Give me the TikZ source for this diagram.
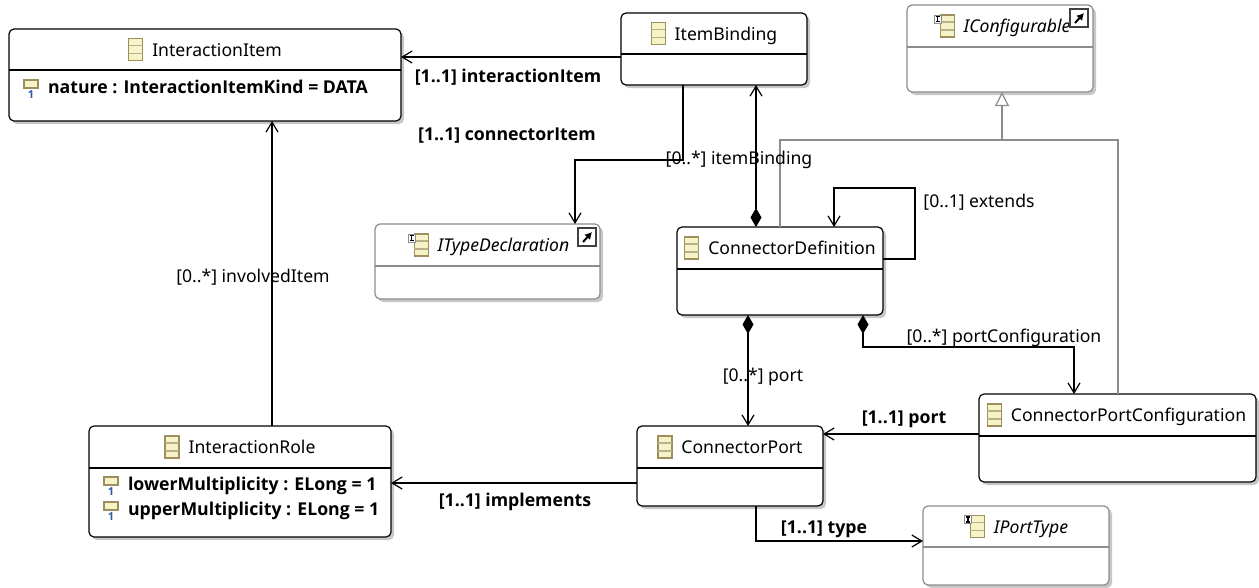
\documentclass[tikz,border=0pt]{standalone}
\usepackage{fontspec}
\setmainfont{Noto Sans}
\newfontfamily\boldface{Open Sans}
\usetikzlibrary{arrows.meta, shadows}
\definecolor{iconborder}{HTML}{9E8E5E}
\definecolor{iconfill}{HTML}{F6F4C6}
\definecolor{linegray}{HTML}{8C8C8C}
\definecolor{onecolor}{HTML}{2F5C9C}
\newcommand{\labelfont}{\fontsize{17.6}{20}\selectfont}
\newcommand{\strongfont}{\fontsize{17.7}{20}\selectfont\boldface\bfseries}
\tikzset{
	classbox/.style= {
		rectangle,
		draw=black,
		line width=1.2pt,
		fill=white,
		rounded corners=5pt,
		anchor=north west,
		inner sep=0,
		outer sep=0,
		drop shadow={shadow xshift=3pt, shadow yshift=-3pt, fill=black!22, opacity=1},
	},
	divider/.style= {
		draw=black,
		line width=1.2pt,
	},
	interface/.style= {
		draw=linegray,
	},
	titletext/.style= {
		font=\labelfont,
		inner sep=0,
		outer sep=0,
		text height=13pt,
		text depth=0pt,
	},
	italictitle/.style= {
		font=\labelfont\itshape,
	},
	attrtext/.style= {
		titletext,
		font=\strongfont,
		anchor=west,
	},
	rolelabel/.style= {
		titletext,
	},
	boldlabel/.style= {
		titletext,
		font=\strongfont,
	},
	refline/.style= {
		draw=black,
		line width=1.2pt,
		-{Straight Barb[length=10pt,width=12pt,line width=1.2pt]},
	},
	containline/.style= {
		refline,
		{Diamond[length=19pt,width=11pt,fill=black]}-{Straight Barb[length=10pt,width=12pt,line width=1.2pt]},
	},
	genline/.style= {
		draw=linegray,
		line width=1.2pt,
	},
	genarrow/.style= {
		genline,
		-{Triangle[open,length=14pt,width=14pt,line width=1.2pt,fill=white]},
	},
	classicon/.pic={
		\draw[draw=iconborder, line width=1.2pt, fill=iconfill] (-7,-11) rectangle (7,11);
		\draw[draw=iconborder!70, line width=1.2pt] (-7,-4) -- (7,-4) (-7,4) -- (7,4);
	},
	attricon/.pic={
		\draw[draw=iconborder, line width=1.2pt, fill=iconfill] (-7,-7) rectangle (7,1);
		\node (attrone) at (0,8) [inner sep=0, text=onecolor, font=\fontsize{11}{12}\boldface\bfseries] {1};
	},
	interfacemark/.pic={
		\draw[draw=linegray, line width=0.7pt, fill=white] (-3.5,-4) rectangle (3.5,4);
		\draw[draw=black, line width=1.2pt] (-2,-2.5) -- (2,-2.5) (0,-2.5) -- (0,2.5) (-2,2.5) -- (2,2.5);
	},
	externalmark/.pic={
		\draw[draw=black!75, line width=1.2pt, fill=white] (-9,-9) rectangle (9,9);
		\draw[draw=black, line width=2pt, -{Latex[length=7pt,width=8pt]}] (-4,5) -- (5,-5);
	},
}
% box with its head line, coordinates in pixels of the picture
\newcommand{\umlclass}[7][]{
	\node(#2)[classbox,#1,minimum width=#5pt,minimum height=#6pt] at (#3,#4) {};
	\draw[divider,#1] ([yshift=-#7pt]#2.north west) to ([yshift=-#7pt]#2.north east);
	\coordinate(#2head) at ([yshift=-#7/2*1pt]#2.north);
}
\newcommand{\umltitle}[3][]{
	\node(#2title)[titletext,#1] at (#2head) {#3};
	\pic at ([xshift=-16.5pt]#2title.west) {classicon};
}
\newcommand{\umlattr}[4]{
	\node(#3)[attrtext] at ([xshift=39pt,yshift=-#2pt]#1.north west) {#4};
	\pic at ([xshift=22pt,yshift=-#2pt]#1.north west) {attricon};
}
\begin{document}
\begin{tikzpicture}[x=1pt,y=-1pt]
		\useasboundingbox (0,0) rectangle (1259,587);
		\fill[white] (0,0) rectangle (1259,587);

		\umlclass{interactionitem}{9}{29}{392}{92}{41}
		\umltitle[xshift=12pt]{interactionitem}{InteractionItem}
		\umlattr{interactionitem}{58}{natureattr}{nature : InteractionItemKind = DATA}

		\umlclass{itembinding}{621}{13}{186}{72}{41}
		\umltitle[xshift=12pt]{itembinding}{ItemBinding}

		\umlclass[interface]{iconfigurable}{907}{5}{186}{87}{42}
		\umltitle[xshift=17pt,italictitle]{iconfigurable}{IConfigurable}
		\pic at ([xshift=-26pt,yshift=7pt]iconfigurabletitle.west) {interfacemark};
		\pic at ([xshift=-14pt,yshift=-13pt]iconfigurable.north east) {externalmark};

		\umlclass[interface]{itypedeclaration}{375}{224}{225}{75}{42}
		\umltitle[xshift=16pt,italictitle]{itypedeclaration}{ITypeDeclaration}
		\pic at ([xshift=-26pt,yshift=7pt]itypedeclarationtitle.west) {interfacemark};
		\pic at ([xshift=-13pt,yshift=-13pt]itypedeclaration.north east) {externalmark};

		\umlclass{connectordefinition}{677}{227}{206}{88}{42}
		\umltitle[xshift=12pt]{connectordefinition}{ConnectorDefinition}

		\umlclass{connectorport}{637}{426}{186}{80}{42}
		\umltitle[xshift=12pt]{connectorport}{ConnectorPort}

		\umlclass{portconfiguration}{979}{394}{277}{88}{42}
		\umltitle[xshift=11pt]{portconfiguration}{ConnectorPortConfiguration}

		\umlclass[interface]{iporttype}{923}{506}{186}{79}{41}
		\umltitle[xshift=15pt,italictitle]{iporttype}{IPortType}
		\pic at ([xshift=-26pt,yshift=7pt]iporttypetitle.west) {interfacemark};

		\umlclass{interactionrole}{89}{426}{302}{111}{42}
		\umltitle[xshift=12pt]{interactionrole}{InteractionRole}
		\umlattr{interactionrole}{58}{lowerattr}{lowerMultiplicity : ELong = 1}
		\umlattr{interactionrole}{83}{upperattr}{upperMultiplicity : ELong = 1}

		\coordinate(genbar) at (1002,140);
		\draw[genline] ([xshift=103pt]connectordefinition.north west) |- (genbar);
		\draw[genline] ([xshift=139pt]portconfiguration.north west) |- (genbar);
		\draw[genarrow] (genbar) to ([xshift=95pt]iconfigurable.south west);

		\draw[refline] ([yshift=-44pt]itembinding.north west) to ([yshift=-28pt]interactionitem.north east);
		\draw[refline] ([xshift=183pt]interactionrole.north west) to ([xshift=263pt]interactionitem.south west);
		\draw[refline] ([xshift=62pt]itembinding.south west) -- ++(0,75) -| ([xshift=200pt]itypedeclaration.north west);
		\draw[containline] ([xshift=79pt]connectordefinition.north west) to ([xshift=135pt]itembinding.south west);
		\draw[refline] ([yshift=-32pt]connectordefinition.north east) -- ++(32,0) |- (854,188) -| ([xshift=157pt]connectordefinition.north west);
		\draw[containline] ([xshift=71pt]connectordefinition.south west) to ([xshift=111pt]connectorport.north west);
		\draw[containline] ([xshift=186pt]connectordefinition.south west) -- ++(0,32) -| ([xshift=95pt]portconfiguration.north west);
		\draw[refline] ([yshift=-40pt]portconfiguration.north west) to ([yshift=-8pt]connectorport.north east);
		\draw[refline] ([yshift=-57pt]connectorport.north west) to ([yshift=-57pt]interactionrole.north east);
		\draw[refline] ([xshift=119pt]connectorport.south west) -- ++(0,35) -- ([yshift=-35pt]iporttype.north west);

		\node(interactionitemlabel)[boldlabel] at (508,75.8) {[1..1] interactionItem};
		\node(connectoritemlabel)[boldlabel] at (507,133.5) {[1..1] connectorItem};
		\node(itembindinglabel)[rolelabel] at (739,157.5) {[0..*] itemBinding};
		\node(involveditemlabel)[rolelabel] at (253,275.5) {[0..*] involvedItem};
		\node(extendslabel)[rolelabel] at (979,200.5) {[0..1] extends};
		\node(portlabel)[rolelabel] at (763,374.5) {[0..*] port};
		\node(configurationlabel)[rolelabel] at (1004,336) {[0..*] portConfiguration};
		\node(portreflabel)[boldlabel] at (904,416.5) {[1..1] port};
		\node(implementslabel)[boldlabel] at (515,500) {[1..1] implements};
		\node(typelabel)[boldlabel] at (824,526.5) {[1..1] type};
\end{tikzpicture}
\end{document}
